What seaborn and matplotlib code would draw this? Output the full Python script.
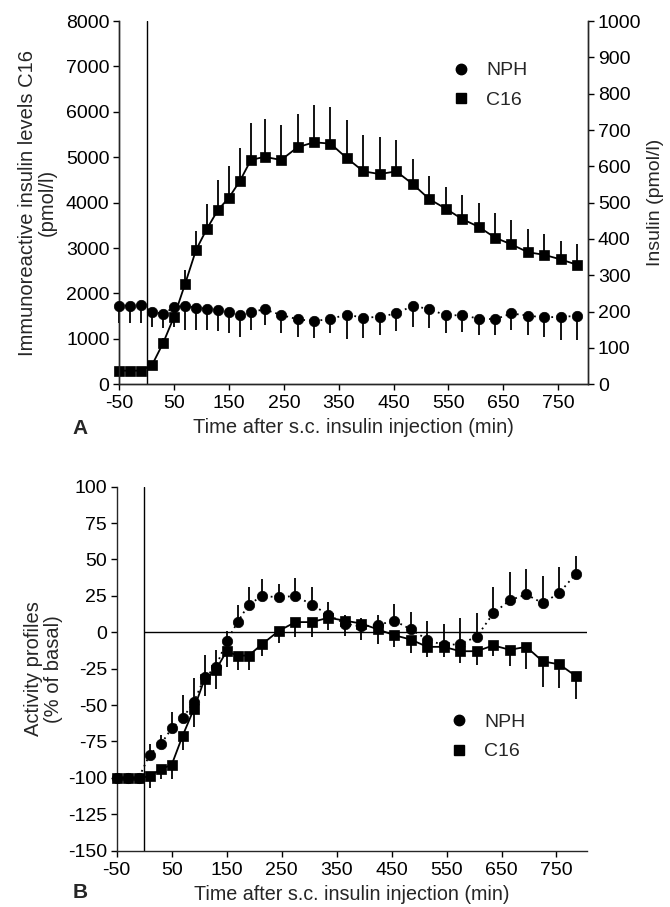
import numpy as np
import pandas as pd
import matplotlib
matplotlib.use('Agg')
import matplotlib.pyplot as plt
from matplotlib.lines import Line2D
import seaborn as sns

# sampling times (min after injection)
time = [-50, -30, -10, 10, 30, 50, 70, 90, 110, 130, 150, 170, 190, 215, 245, 275,
        305, 335, 365, 395, 425, 455, 485, 515, 545, 575, 605, 635, 665, 695, 725,
        755, 785]

# panel A: C16 immunoreactive insulin (pmol/l, left axis), SEM upward
c16_ins = [300, 300, 300, 430, 910, 1490, 2210, 2960, 3430, 3840, 4110, 4480, 4940,
           5010, 4940, 5220, 5330, 5300, 4980, 4690, 4630, 4690, 4410, 4080, 3870,
           3640, 3470, 3230, 3080, 2910, 2850, 2750, 2630]
c16_ins_sem = [30, 30, 30, 80, 100, 120, 300, 420, 550, 650, 700, 720, 810, 830, 770,
               730, 810, 800, 830, 810, 810, 680, 560, 510, 480, 520, 520, 540, 530,
               510, 460, 415, 460]

# panel A: NPH insulin (pmol/l, right axis), SEM downward
nph_ins = [216, 216, 217, 200, 194, 212, 216, 211, 208, 205, 198, 191, 200, 206, 191,
           179, 174, 180, 192, 183, 186, 195, 216, 207, 190, 190, 181, 179, 195, 189,
           184, 186, 188]
nph_ins_sem = [48, 48, 49, 41, 40, 53, 66, 61, 58, 57, 58, 62, 50, 43, 51, 48, 47, 40,
               66, 55, 49, 49, 58, 53, 48, 46, 46, 44, 46, 52, 53, 63, 65]

# panel B: activity profiles (% of basal)
nph_act = [-100, -100, -100, -84, -77, -66, -59, -48, -31, -24, -6, 7, 19, 25, 24, 25,
           19, 12, 6, 4, 5, 8, 2, -5, -9, -8, -3, 13, 22, 26, 20, 27, 40]
nph_act_sem = [0, 0, 0, 7.6, 6.4, 11, 16, 16.4, 15.4, 11.8, 6.7, 11.4, 12.2, 11.9, 8.9,
               12.4, 12, 9, 6, 6, 7, 11.5, 12, 12.6, 15, 17.6, 16.5, 17.8, 19.5, 17.6,
               19, 17.8, 12.5]
c16_act = [-100, -100, -100, -99, -94, -91, -71, -53, -32, -26, -13, -16, -16, -8, 1, 7,
           7, 10, 8, 6, 2, -2, -5, -10, -10, -13, -13, -9, -12, -10, -20, -22, -30]
c16_act_sem = [0, 0, 0, 8, 7, 10, 10, 12, 12, 13, 11, 10, 10, 8, 8.7, 10.3, 9.9, 8.5,
               10.7, 11.4, 10, 8.4, 9.2, 7.3, 6.7, 8.3, 9.2, 7.3, 11.3, 15.2, 17.9,
               16.6, 15.6]

sns.set_theme(style='ticks')
plt.rcParams['font.family'] = ['Liberation Sans', 'DejaVu Sans']
plt.rcParams['axes.unicode_minus'] = False
plt.rcParams['axes.linewidth'] = 1.0
plt.rcParams['xtick.major.width'] = 1.0
plt.rcParams['ytick.major.width'] = 1.0
plt.rcParams['xtick.major.size'] = 4.5
plt.rcParams['ytick.major.size'] = 4.5
plt.rcParams['xtick.major.pad'] = 3.5
plt.rcParams['ytick.major.pad'] = 2.5

TICK_FS = 14
LAB_FS = 14.5
LEG_FS = 14
dotted = (0, (1, 2.2))


def draw_series(ax, x, y, sem, up, marker, ls, ms):
    x = np.asarray(x)
    y = np.asarray(y, dtype=float)
    sem = np.asarray(sem, dtype=float)
    end = y + sem if up else y - sem
    ax.vlines(x, y, end, color='black', lw=1.3, zorder=2, clip_on=False)
    df = pd.DataFrame({'time': x, 'value': y})
    sns.lineplot(data=df, x='time', y='value', ax=ax, color='black', marker=marker,
                 markersize=ms, markeredgecolor='black', markeredgewidth=0.5,
                 linewidth=1.3, linestyle=ls, estimator=None, clip_on=False,
                 zorder=3)


fig = plt.figure(figsize=(6.7, 9.07), dpi=100)

# ---------- panel A ----------
ax1 = fig.add_axes([0.178, 0.5763, 0.700, 0.4005])
ax1r = ax1.twinx()
draw_series(ax1, time, c16_ins, c16_ins_sem, True, 's', '-', 7)
draw_series(ax1r, time, nph_ins, nph_ins_sem, False, 'o', dotted, 7.5)
ax1.axvline(0, color='black', lw=1.0)

ax1.set_xlim(-50, 805)
ax1.set_ylim(0, 8000)
ax1r.set_ylim(0, 1000)
ax1.set_xticks(range(-50, 800, 100))
ax1.set_yticks(range(0, 8001, 1000))
ax1r.set_yticks(range(0, 1001, 100))
for a in (ax1, ax1r):
    a.spines['top'].set_visible(False)
    a.tick_params(labelsize=TICK_FS, colors='black')
ax1.set_xlabel('Time after s.c. insulin injection (min)', fontsize=LAB_FS)
ax1.set_ylabel('Immunoreactive insulin levels C16\n(pmol/l)', fontsize=LAB_FS,
               linespacing=1.05)
ax1r.set_ylabel('Insulin (pmol/l)', fontsize=14)
ax1.xaxis.set_label_coords(0.5, -0.094)
ax1.yaxis.set_label_coords(-0.133, 0.5)
ax1r.yaxis.set_label_coords(1.125, 0.5)

handles = [Line2D([], [], color='black', marker='o', ls='none', markersize=7.5),
           Line2D([], [], color='black', marker='s', ls='none', markersize=6.5)]
ax1r.legend(handles, ['NPH', 'C16'], loc='center', bbox_to_anchor=(0.73, 0.906),
            bbox_transform=fig.transFigure, frameon=False, fontsize=LEG_FS,
            handlelength=1.0, handletextpad=0.8, labelspacing=0.6)
fig.text(80 / 670, 1 - 428 / 907, 'A', fontsize=15, fontweight='bold', ha='center',
         va='center')

# ---------- panel B ----------
ax2 = fig.add_axes([0.1742, 0.0621, 0.7015, 0.4013])
ax2.axvline(0, color='black', lw=1.0)
ax2.hlines(0, 0, 805, color='black', lw=1.0)
draw_series(ax2, time, nph_act, nph_act_sem, True, 'o', dotted, 7.5)
draw_series(ax2, time, c16_act, c16_act_sem, False, 's', '-', 7)

ax2.set_xlim(-50, 805)
ax2.set_ylim(-150, 100)
ax2.set_xticks(range(-50, 800, 100))
ax2.set_yticks(range(-150, 101, 25))
sns.despine(ax=ax2)
ax2.tick_params(labelsize=TICK_FS, colors='black')
ax2.set_xlabel('Time after s.c. insulin injection (min)', fontsize=14.2)
ax2.set_ylabel('Activity profiles\n(% of basal)', fontsize=LAB_FS, linespacing=1.05)
ax2.xaxis.set_label_coords(0.5, -0.094)
ax2.yaxis.set_label_coords(-0.114, 0.5)
ax2.legend(handles, ['NPH', 'C16'], loc='center', bbox_to_anchor=(0.727, 0.1874),
           bbox_transform=fig.transFigure, frameon=False, fontsize=LEG_FS,
           handlelength=1.0, handletextpad=0.8, labelspacing=0.6)
fig.text(80 / 670, 1 - 893 / 907, 'B', fontsize=15, fontweight='bold', ha='center',
         va='center')

fig.savefig('out.png', dpi=100)
